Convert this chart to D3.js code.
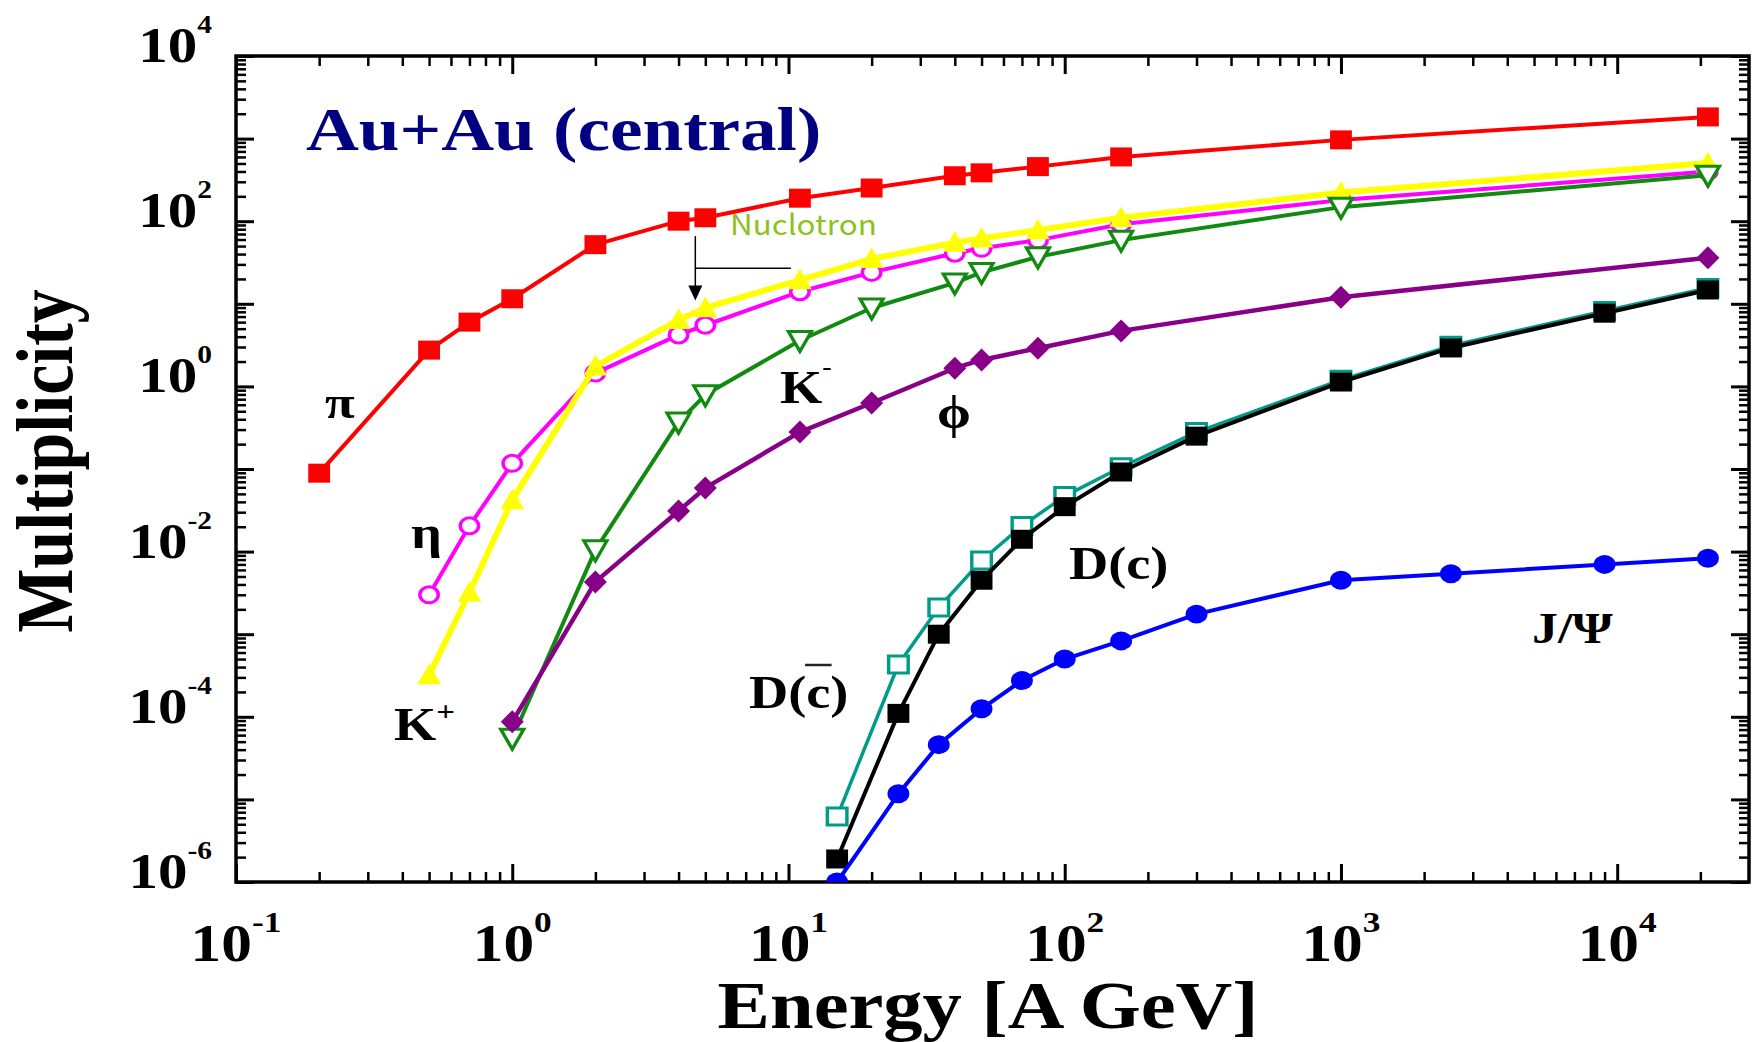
<!DOCTYPE html>
<html>
<head>
<meta charset="utf-8">
<script src="https://cdn.jsdelivr.net/npm/d3@7"></script>
<style>
body { margin: 0; background: #fff; }
svg { display: block; }
text { font-family: "Liberation Serif", "Times New Roman", serif; font-weight: bold; fill: #000; }
</style>
</head>
<body>
<script>
// multiplicities in central Au+Au vs beam energy (A GeV)
var piE = [0.2, 0.5, 0.7, 1, 2, 4, 5, 11, 20, 40, 50, 80, 160, 1000, 21300];
var piM = [0.089, 2.75, 6.0, 11.5, 52, 100, 110, 190, 252, 355, 385, 458, 600, 965, 1830];

var etaE = [0.5, 0.7, 1, 2, 4, 5, 11, 20, 40, 50, 80, 160, 1000, 21300];
var etaM = [3.0e-3, 0.0205, 0.117, 1.45, 4.2, 5.5, 14, 24, 41, 47, 59, 92, 180, 400];

var kpE = [0.5, 0.7, 1, 2, 4, 5, 11, 20, 40, 50, 80, 160, 1000, 21300];
var kpM = [3.2e-4, 3.2e-3, 0.042, 1.75, 6.4, 8.9, 19.4, 35, 55, 62, 78, 110, 222, 505];

var kmE = [1, 2, 4, 5, 11, 20, 40, 50, 80, 160, 1000, 21300];
var kmM = [5.5e-5, 0.0105, 0.37, 0.79, 3.6, 8.9, 17.9, 24, 37, 59, 148, 360];

var phiE = [1, 2, 4, 5, 11, 20, 40, 50, 80, 160, 1000, 21300];
var phiM = [8.7e-5, 4.3e-3, 0.031, 0.059, 0.28, 0.63, 1.66, 2.09, 2.9, 4.7, 12, 36];

var dbarE = [15, 25, 35, 50, 70, 100, 160, 300, 1000, 2500, 9000, 21300];
var dbarM = [6.2e-6, 4.3e-4, 2.1e-3, 7.8e-3, 0.0204, 0.047, 0.105, 0.28, 1.2, 3.1, 8.2, 15.5];

var dE = [15, 25, 35, 50, 70, 100, 160, 300, 1000, 2500, 9000, 21300];
var dM = [1.9e-6, 1.1e-4, 1.0e-3, 4.5e-3, 0.0141, 0.035, 0.092, 0.25, 1.13, 2.92, 7.7, 14.7];

var jpsiE = [15, 25, 35, 50, 70, 100, 160, 300, 1000, 2500, 9000, 21300];
var jpsiM = [1.0e-6, 1.17e-5, 4.6e-5, 1.25e-4, 2.75e-4, 5.0e-4, 8.3e-4, 1.75e-3, 4.5e-3, 5.4e-3, 7.0e-3, 8.3e-3];

var xTickVals = [0.1, 1, 10, 100, 1000, 10000];
var xTickExp = ["-1", "0", "1", "2", "3", "4"];
var yTickVals = [1e-6, 1e-4, 1e-2, 1, 100, 10000];
var yTickExp = ["-6", "-4", "-2", "0", "2", "4"];

// Nuclotron arrow (energy, multiplicities)
var nucE = 4.6, nucTopM = 66, nucTipM = 11, nucBarM = 27, nucBarE = 10.2;

var width = 1763, height = 1042;
var pLeft = 236, pRight = 1749, pTop = 56, pBottom = 882;
var stretch = 1.18;

var svg = d3.select("body")
    .append("svg")
    .attr("width", width)
    .attr("height", height);

var x = d3.scaleLog().domain([0.1, 3e4]).range([pLeft, pRight]);
var y = d3.scaleLog().domain([1e-6, 1e4]).range([pBottom, pTop]);

// ticks
var xMajor = [], xMinor = [];
for (var e = -1; e <= 4; e++) {
    xMajor.push(Math.pow(10, e));
    for (var k = 2; k <= 9; k++) {
        var v = k * Math.pow(10, e);
        if (v < 3e4) xMinor.push(v);
    }
}
var yMajor = [], yMinor = [];
for (var e = -6; e <= 4; e++) {
    yMajor.push(Math.pow(10, e));
    if (e < 4) {
        for (var k = 2; k <= 9; k++) yMinor.push(k * Math.pow(10, e));
    }
}

function drawAxis(axis, tx, ty, vals, size, sw) {
    var g = svg.append("g")
        .attr("transform", "translate(" + tx + "," + ty + ")")
        .call(axis.tickValues(vals).tickSize(-size).tickSizeOuter(0).tickFormat(""));
    g.select(".domain").remove();
    g.selectAll("line").attr("stroke", "#000").attr("stroke-width", sw);
}
drawAxis(d3.axisBottom(x), 0, pBottom, xMajor, 18, 3);
drawAxis(d3.axisBottom(x), 0, pBottom, xMinor, 10, 2.5);
drawAxis(d3.axisTop(x), 0, pTop, xMajor, 18, 3);
drawAxis(d3.axisTop(x), 0, pTop, xMinor, 10, 2.5);
drawAxis(d3.axisLeft(y), pLeft, 0, yMajor, 18, 3);
drawAxis(d3.axisLeft(y), pLeft, 0, yMinor, 10, 2.5);
drawAxis(d3.axisRight(y), pRight, 0, yMajor, 18, 3);
drawAxis(d3.axisRight(y), pRight, 0, yMinor, 10, 2.5);

svg.append("rect")
    .attr("x", pLeft).attr("y", pTop)
    .attr("width", pRight - pLeft).attr("height", pBottom - pTop)
    .attr("fill", "none").attr("stroke", "#000").attr("stroke-width", 3.5);

// tick labels
xTickVals.forEach(function (v, i) {
    var t = svg.append("text")
        .attr("transform", "translate(" + x(v) + ",961) scale(" + stretch + ",1)")
        .attr("text-anchor", "middle")
        .attr("font-size", 52);
    t.append("tspan").text("10");
    t.append("tspan").attr("font-size", 30).attr("dy", -29).text(xTickExp[i]);
});
yTickVals.forEach(function (v, i) {
    var t = svg.append("text")
        .attr("transform", "translate(212," + (y(v) + 6) + ") scale(" + stretch + ",1)")
        .attr("text-anchor", "end")
        .attr("font-size", 50);
    t.append("tspan").text("10");
    t.append("tspan").attr("font-size", 25).attr("dy", -29).text(yTickExp[i]);
});

// axis titles
svg.append("text")
    .attr("transform", "translate(988,1028) scale(1.155,1)")
    .attr("text-anchor", "middle")
    .attr("font-size", 68)
    .text("Energy [A GeV]");
svg.append("text")
    .attr("transform", "translate(72,461) scale(1.19,1) rotate(-90)")
    .attr("text-anchor", "middle")
    .attr("font-size", 68)
    .text("Multiplicity");

svg.append("text")
    .attr("transform", "translate(306,150) scale(1.2,1)")
    .attr("font-size", 61)
    .style("fill", "#000080")
    .text("Au+Au (central)");

// marker shapes
var symSquare = { draw: function (c, s) { var r = Math.sqrt(s) / 2; c.rect(-r, -r, 2 * r, 2 * r); } };
var symTriUp = { draw: function (c, s) { var r = Math.sqrt(s) / 2; c.moveTo(0, -1.1 * r); c.lineTo(r, 0.9 * r); c.lineTo(-r, 0.9 * r); c.closePath(); } };
var symTriDown = { draw: function (c, s) { var r = Math.sqrt(s) / 2; c.moveTo(0, 1.1 * r); c.lineTo(r, -0.9 * r); c.lineTo(-r, -0.9 * r); c.closePath(); } };
var symDiamond = { draw: function (c, s) { var r = Math.sqrt(s) / 2; c.moveTo(0, -1.15 * r); c.lineTo(r, 0); c.lineTo(0, 1.15 * r); c.lineTo(-r, 0); c.closePath(); } };

var series = [
    { E: piE, M: piM, color: "#ff0000", lw: 4, sym: symSquare, size: 361, fill: "#ff0000", sw: 0 },
    { E: etaE, M: etaM, color: "#ff00ff", lw: 4, sym: d3.symbolCircle, size: 201, fill: "#fff", sw: 3 },
    { E: kpE, M: kpM, color: "#ffff00", lw: 6, sym: symTriUp, size: 420, fill: "#ffff00", sw: 0 },
    { E: kmE, M: kmM, color: "#108a10", lw: 4, sym: symTriDown, size: 400, fill: "#fff", sw: 3 },
    { E: phiE, M: phiM, color: "#880088", lw: 4.5, sym: symDiamond, size: 400, fill: "#880088", sw: 0 },
    { E: dbarE, M: dbarM, color: "#009c88", lw: 3.5, sym: symSquare, size: 289, fill: "#fff", sw: 3 },
    { E: dE, M: dM, color: "#000000", lw: 4, sym: symSquare, size: 361, fill: "#000", sw: 0 },
    { E: jpsiE, M: jpsiM, color: "#0000ff", lw: 4, sym: d3.symbolCircle, size: 283, fill: "#0000ff", sw: 0 }
];

svg.append("clipPath").attr("id", "plotclip")
    .append("rect")
    .attr("x", pLeft).attr("y", pTop)
    .attr("width", pRight - pLeft).attr("height", pBottom - pTop);

var plot = svg.append("g").attr("clip-path", "url(#plotclip)");

var line = d3.line()
    .x(function (d) { return x(d.e); })
    .y(function (d) { return y(d.m); });

series.forEach(function (s) {
    var pts = s.E.map(function (e, i) { return { e: e, m: s.M[i] }; });
    var g = plot.append("g");
    g.append("path")
        .datum(pts)
        .attr("d", line)
        .attr("fill", "none")
        .attr("stroke", s.color)
        .attr("stroke-width", s.lw)
        .attr("stroke-linejoin", "round");
    g.selectAll(".mk")
        .data(pts)
        .enter()
        .append("path")
        .attr("transform", function (d) { return "translate(" + x(d.e) + "," + y(d.m) + ") scale(1.15,1)"; })
        .attr("d", d3.symbol().type(s.sym).size(s.size))
        .attr("fill", s.fill)
        .attr("stroke", s.sw ? s.color : "none")
        .attr("stroke-width", s.sw);
});

// Nuclotron annotation
svg.append("line")
    .attr("x1", x(nucE)).attr("x2", x(nucE))
    .attr("y1", y(nucTopM)).attr("y2", y(nucTipM) - 12)
    .attr("stroke", "#000").attr("stroke-width", 1.5);
svg.append("line")
    .attr("x1", x(nucE)).attr("x2", x(nucBarE))
    .attr("y1", y(nucBarM)).attr("y2", y(nucBarM))
    .attr("stroke", "#000").attr("stroke-width", 1.5);
svg.append("path")
    .attr("d", "M" + x(nucE) + "," + y(nucTipM) + " l-7,-15 l14,0 z")
    .attr("fill", "#000");
svg.append("text")
    .attr("transform", "translate(730,235) scale(1.12,1)")
    .attr("font-size", 28)
    .style("font-family", "'Noto Sans CJK JP', 'Noto Sans', sans-serif")
    .style("font-weight", "normal")
    .style("fill", "#8cc21f")
    .text("Nuclotron");

// particle labels
function label(txt, px, py, size) {
    return svg.append("text")
        .attr("transform", "translate(" + px + "," + py + ") scale(" + stretch + ",1)")
        .attr("font-size", size)
        .text(txt);
}
label("\u03c0", 325, 418, 46);
label("\u03b7", 411, 548, 46);
label("\u03d5", 937, 428, 46);
label("D(c)", 1069, 579, 46);
label("J/\u03a8", 1532, 643, 44);

var kp = label("K", 394, 740, 46);
kp.append("tspan").attr("font-size", 28).attr("dy", -19).text("+");
var km = label("K", 780, 403, 46);
km.append("tspan").attr("font-size", 24).attr("dy", -28).text("-");

var dbarG = svg.append("g")
    .attr("transform", "translate(749,708) scale(" + stretch + ",1)");
var dbarT = dbarG.append("text").attr("font-size", 46).text("D(c)");
var n = dbarT.node();
var cx0 = n.getSubStringLength(0, 2);
var cw = n.getSubStringLength(2, 1);
dbarG.append("line")
    .attr("x1", cx0 - 1).attr("x2", cx0 + cw + 1)
    .attr("y1", -43).attr("y2", -43)
    .attr("stroke", "#222").attr("stroke-width", 2.5);
</script>
</body>
</html>
